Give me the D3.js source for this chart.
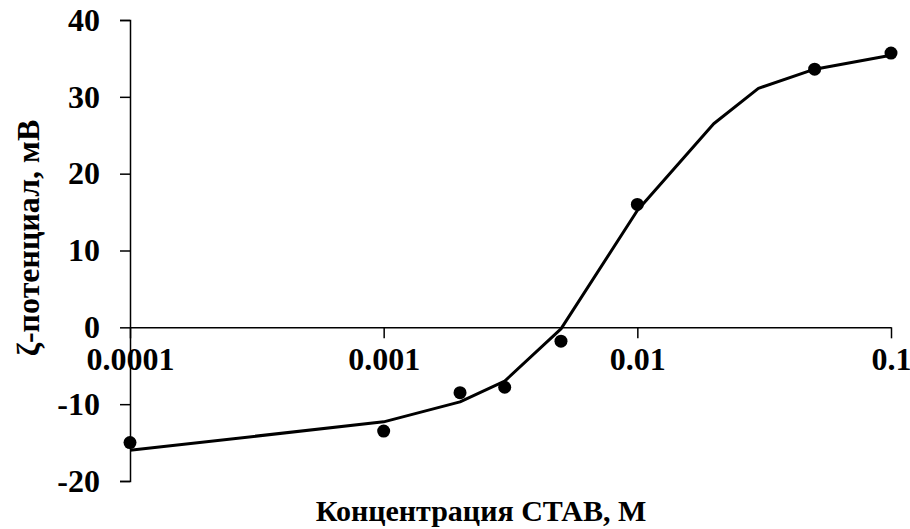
<!DOCTYPE html>
<html><head><meta charset="utf-8">
<script src="https://cdn.jsdelivr.net/npm/d3@7"></script>
<style>
html,body{margin:0;padding:0;background:#fff;}
text{font-family:"Liberation Serif","Times New Roman",serif;font-weight:bold;fill:#000;}
</style></head>
<body>
<svg id="c" width="910" height="529"></svg>
<script>
// measured points
const pointX = [0.0001, 0.001, 0.002, 0.003, 0.005, 0.01, 0.05, 0.1];
const pointY = [-15.0, -13.5, -8.5, -7.8, -1.8, 16.0, 33.6, 35.7];
// fitted curve
const lineX = [0.0001, 0.001, 0.002, 0.003, 0.005, 0.01, 0.02, 0.03, 0.05, 0.1];
const lineY = [-16.0, -12.3, -9.7, -7.0, -0.2, 15.2, 26.5, 31.1, 33.6, 35.4];
const xTicks = [0.0001, 0.001, 0.01, 0.1];
const xTickLabels = ["0.0001", "0.001", "0.01", "0.1"];
const yTicks = [-20, -10, 0, 10, 20, 30, 40];
const xTitle = "Концентрация СТАВ, М";
const yTitle = "ζ-потенциал, мВ";

const svg = d3.select("#c");
const x = d3.scaleLog().domain([0.0001, 0.1]).range([130, 891]);
const y = d3.scaleLinear().domain([-20, 40]).range([481, 20]);
const fs = 32;

// y axis
const ya = svg.append("g").attr("transform", `translate(${x(0.0001)},0)`)
  .call(d3.axisLeft(y).tickValues(yTicks).tickSize(10).tickPadding(20).tickFormat(d => String(d)));
ya.select(".domain").attr("stroke", "#000").attr("stroke-width", 1.5);
ya.selectAll(".tick line").attr("stroke", "#000").attr("stroke-width", 1.5);
ya.selectAll(".tick text").style("font-size", fs + "px").style("font-family", "Liberation Serif").style("font-weight", "bold").attr("fill", "#000");

// x axis at y=0
const xa = svg.append("g").attr("transform", `translate(0,${y(0)})`)
  .call(d3.axisBottom(x).tickValues(xTicks).tickSize(11).tickSizeOuter(0).tickPadding(9)
    .tickFormat((d, i) => xTickLabels[i]));
xa.select(".domain").attr("stroke", "#000").attr("stroke-width", 1.5);
xa.selectAll(".tick line").attr("stroke", "#000").attr("stroke-width", 1.5);
xa.selectAll(".tick text").style("font-size", fs + "px").style("font-family", "Liberation Serif").style("font-weight", "bold").attr("fill", "#000")
  .attr("dy", "0.71em");

// line
const line = d3.line().x((d, i) => x(lineX[i])).y(d => y(d)).curve(d3.curveLinear);
svg.append("path").datum(lineY).attr("d", line).attr("fill", "none")
  .attr("stroke", "#000").attr("stroke-width", 3).attr("stroke-linejoin", "round");

// points
svg.append("g").selectAll("circle").data(pointY).join("circle")
  .attr("cx", (d, i) => x(pointX[i])).attr("cy", d => y(d)).attr("r", 6.5).attr("fill", "#000");

// titles
svg.append("text").attr("x", 481).attr("y", 521).attr("text-anchor", "middle")
  .style("font-size", "30px").text(xTitle);
svg.append("text").attr("transform", `translate(39,238) rotate(-90)`).attr("text-anchor", "middle")
  .style("font-size", "32px").text(yTitle);
</script>
</body></html>
